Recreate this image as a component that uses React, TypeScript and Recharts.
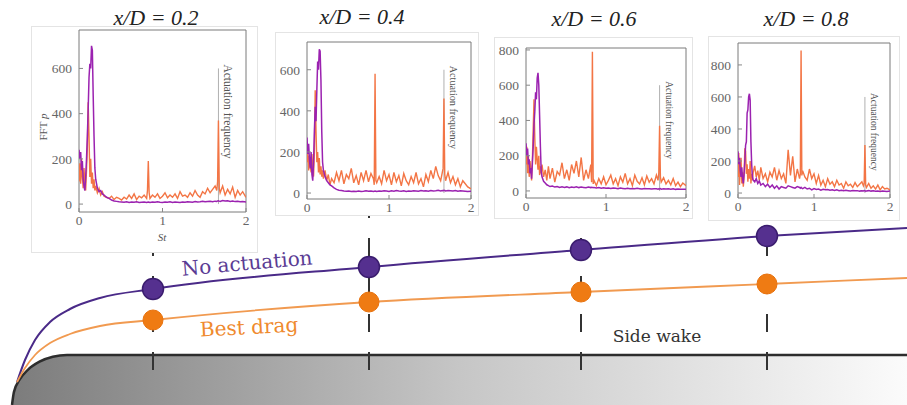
import React from "react";
import { ComposedChart, LineChart, Line, Area, XAxis, YAxis, ReferenceArea, ReferenceLine } from "recharts";

// Strouhal grid shared by the four FFT insets
const st = [
  0, 0.01, 0.02, 0.03, 0.04, 0.05, 0.06, 0.07, 0.08, 0.09,
  0.1, 0.11, 0.12, 0.13, 0.14, 0.15, 0.16, 0.17, 0.18, 0.19,
  0.2, 0.22, 0.24, 0.26, 0.28, 0.3, 0.33, 0.36, 0.39, 0.42,
  0.45, 0.48, 0.51, 0.54, 0.57, 0.6, 0.63, 0.66, 0.69, 0.72,
  0.75, 0.78, 0.81, 0.82, 0.83, 0.84, 0.85, 0.88, 0.91, 0.94,
  0.97, 1.0, 1.03, 1.06, 1.09, 1.12, 1.15, 1.18, 1.21, 1.24,
  1.27, 1.3, 1.33, 1.36, 1.39, 1.42, 1.45, 1.48, 1.51, 1.54,
  1.57, 1.6, 1.63, 1.65, 1.66, 1.67, 1.68, 1.69, 1.72, 1.75,
  1.78, 1.81, 1.84, 1.87, 1.9, 1.93, 1.96, 2.0,
];

// FFT of p, no actuation (purple) and best drag (orange), per station
const fftNone02 = [
  240, 200, 230, 150, 190, 110, 80, 60, 120, 200,
  300, 420, 560, 620, 600, 700, 680, 480, 300, 160,
  110, 70, 55, 60, 45, 40, 30, 25, 18, 14,
  12, 10, 9, 8, 10, 7, 9, 8, 10, 7,
  8, 9, 7, 8, 9, 8, 7, 9, 8, 10,
  8, 7, 9, 8, 10, 7, 9, 8, 7, 9,
  8, 10, 9, 8, 11, 9, 10, 12, 10, 11,
  12, 10, 13, 12, 14, 15, 13, 12, 16, 14,
  15, 12, 14, 11, 12, 10, 11, 9,
];
const fftBest02 = [
  100, 180, 90, 200, 120, 70, 160, 90, 60, 150,
  250, 450, 300, 120, 200, 90, 140, 70, 110, 60,
  80, 50, 70, 40, 55, 35, 30, 25, 35, 20,
  30, 25, 18, 30, 22, 40, 25, 45, 20, 35,
  28, 40, 25, 60, 190, 50, 25, 40, 30, 45,
  25, 35, 50, 28, 40, 30, 45, 25, 55, 35,
  40, 30, 50, 35, 60, 40, 30, 55, 45, 70,
  50, 65, 80, 60, 100, 370, 70, 50, 80, 40,
  65, 45, 75, 30, 60, 40, 55, 30,
];
const fftNone04 = [
  270, 190, 240, 160, 120, 200, 90, 60, 150, 300,
  420, 350, 500, 640, 600, 700, 690, 550, 300, 150,
  110, 80, 60, 50, 40, 35, 25, 18, 14, 12,
  10, 9, 10, 8, 9, 7, 10, 8, 9, 11,
  9, 10, 8, 9, 10, 9, 8, 10, 9, 11,
  10, 8, 11, 9, 12, 10, 9, 11, 8, 10,
  9, 11, 10, 9, 12, 10, 11, 9, 12, 10,
  11, 13, 10, 12, 11, 13, 12, 10, 12, 11,
  10, 12, 9, 11, 10, 9, 8, 9,
];
const fftBest04 = [
  150, 200, 110, 180, 130, 100, 190, 120, 80, 200,
  500, 300, 150, 200, 100, 170, 90, 130, 80, 110,
  70, 110, 60, 90, 40, 70, 50, 100, 60, 110,
  45, 90, 70, 120, 50, 85, 40, 100, 60, 110,
  55, 95, 70, 40, 580, 60, 50, 80, 45, 110,
  60, 90, 40, 100, 55, 85, 35, 95, 60, 40,
  80, 50, 100, 45, 70, 30, 90, 55, 110, 70,
  130, 85, 60, 100, 120, 460, 90, 60, 100, 50,
  80, 40, 70, 30, 60, 45, 30, 20,
];
const fftNone06 = [
  270, 200, 240, 150, 180, 100, 130, 70, 160, 250,
  380, 450, 560, 520, 640, 670, 600, 430, 250, 110,
  80, 55, 45, 35, 30, 25, 28, 22, 25, 20,
  24, 20, 23, 18, 22, 20, 24, 19, 22, 20,
  18, 22, 19, 21, 20, 18, 20, 17, 19, 16,
  18, 15, 17, 14, 16, 15, 13, 16, 14, 12,
  15, 13, 14, 12, 15, 13, 11, 14, 12, 13,
  11, 13, 12, 10, 12, 11, 13, 10, 12, 11,
  13, 10, 12, 9, 11, 10, 9, 10,
];
const fftBest06 = [
  150, 250, 100, 200, 80, 170, 120, 60, 180, 350,
  520, 300, 150, 250, 180, 120, 200, 90, 140, 100,
  150, 80, 120, 60, 140, 70, 130, 50, 110, 90,
  160, 70, 120, 60, 150, 100, 170, 80, 190, 60,
  120, 70, 150, 50, 790, 40, 60, 30, 70, 40,
  80, 35, 60, 90, 40, 70, 30, 80, 50, 100,
  40, 70, 30, 90, 55, 40, 75, 35, 85, 50,
  70, 40, 90, 60, 100, 370, 80, 50, 75, 40,
  60, 35, 70, 30, 50, 25, 45, 30,
];
const fftNone08 = [
  260, 180, 220, 140, 100, 160, 90, 60, 120, 200,
  300, 320, 500, 520, 600, 620, 580, 320, 180, 100,
  80, 70, 90, 60, 75, 50, 60, 40, 55, 35,
  50, 30, 45, 25, 40, 35, 30, 45, 40, 35,
  30, 40, 35, 30, 35, 30, 28, 35, 25, 30,
  20, 28, 22, 25, 18, 24, 20, 22, 18, 20,
  16, 20, 15, 18, 14, 17, 15, 13, 16, 14,
  15, 12, 14, 13, 15, 14, 12, 13, 15, 12,
  14, 11, 13, 10, 12, 11, 10, 12,
];
const fftBest08 = [
  100, 250, 50, 150, 220, 60, 130, 40, 110, 280,
  260, 120, 180, 70, 150, 90, 200, 60, 120, 80,
  130, 170, 100, 140, 80, 160, 90, 120, 70, 130,
  100, 160, 80, 140, 90, 120, 60, 270, 110, 230,
  70, 150, 90, 120, 890, 110, 140, 100, 80, 150,
  90, 120, 60, 110, 50, 80, 40, 90, 55, 70,
  40, 80, 50, 60, 30, 70, 45, 55, 35, 65,
  40, 55, 70, 45, 60, 300, 50, 35, 60, 30,
  45, 25, 50, 20, 40, 25, 30, 20,
];

const stationNames = ["x/D = 0.2", "x/D = 0.4", "x/D = 0.6", "x/D = 0.8"];
const actuationSt = 1.67;
const actuationTop = 600;

// schematic of the body side: streamwise position and height (schematic units)
const stationX = [153, 369, 581, 767];
const noneDotH = [116, 138, 155, 169];
const bestDotH = [85, 103, 113, 121];
const curveX = [17, 25, 35, 50, 70, 100, 153, 369, 581, 767, 907];
const noneCurveH = [23, 45, 65, 83, 96, 107, 116, 138, 155, 169, 177];
const bestCurveH = [23, 37, 50, 62, 71, 79, 85, 103, 113, 121, 127];
const bodyX = [12, 13.9, 19.4, 28.1, 39.5, 52.8, 67, 907];
const bodyH = [0, 12.9, 25, 35.4, 43.3, 48.3, 50, 50];
const stationSpan = [35, 205];

const PURPLE = "#55308f";
const ORANGE = "#ef7b13";
const FFT_PURPLE = "#9b22b0";
const FFT_ORANGE = "#f37545";

const insets = [
  { none: fftNone02, best: fftBest02, box: { x: 32, y: 27, w: 225, h: 225 }, plot: { l: 79, r: 246, t: 30, b: 212 }, y: [-35, 770], ticks: [0, 200, 400, 600], title: { cx: 156, base: 26 }, labelSize: 11.5 },
  { none: fftNone04, best: fftBest04, box: { x: 276, y: 33, w: 202, h: 182 }, plot: { l: 307, r: 471, t: 42, b: 199 }, y: [-29, 735], ticks: [0, 200, 400, 600], title: { cx: 362, base: 25 }, labelSize: 10.2 },
  { none: fftNone06, best: fftBest06, box: { x: 495, y: 38, w: 197, h: 180 }, plot: { l: 526, r: 686, t: 48, b: 198 }, y: [-40, 811], ticks: [0, 200, 400, 600, 800], title: { cx: 594, base: 27 }, labelSize: 9.5 },
  { none: fftNone08, best: fftBest08, box: { x: 709, y: 37, w: 190, h: 183 }, plot: { l: 738, r: 890, t: 43, b: 198 }, y: [-31, 937], ticks: [0, 200, 400, 600, 800], title: { cx: 806, base: 27 }, labelSize: 9.5 },
];

const tickStyle = { fontSize: 13.5, fill: "#666", fontFamily: "Liberation Serif, serif" };

function Inset({ cfg, idx }: { cfg: (typeof insets)[number]; idx: number }) {
  const { box, plot } = cfg;
  const data = st.map((s, i) => ({ st: s, none: cfg.none[i], best: cfg.best[i] }));
  const yAxisW = 28;
  const xAxisH = 8;
  return (
    <div
      style={{
        position: "absolute",
        left: box.x,
        top: box.y,
        width: box.w,
        height: box.h,
        background: "#fff",
        boxShadow: "0 0 0 1px #e4e4e4",
        overflow: "hidden",
      }}
    >
      <LineChart
        width={box.w}
        height={box.h}
        data={data}
        margin={{
          top: plot.t - box.y,
          right: box.x + box.w - plot.r,
          bottom: box.y + box.h - plot.b - xAxisH,
          left: plot.l - box.x - yAxisW,
        }}
      >
        <XAxis
          dataKey="st"
          type="number"
          domain={[0, 2]}
          ticks={[0, 1, 2]}
          height={xAxisH}
          axisLine={false}
          tickLine={{ stroke: "#888" }}
          tickSize={-4}
          tickMargin={7}
          tick={tickStyle}
          allowDataOverflow
        />
        <YAxis
          type="number"
          domain={cfg.y}
          ticks={cfg.ticks}
          width={yAxisW}
          axisLine={false}
          tickLine={{ stroke: "#888" }}
          tickSize={-4}
          tickMargin={11}
          tick={tickStyle}
          allowDataOverflow
        />
        <ReferenceLine
          segment={[
            { x: actuationSt, y: 0 },
            { x: actuationSt, y: actuationTop },
          ]}
          stroke="#b0b0b0"
          strokeWidth={1}
          label={(p: any) => {
            const vb = p.viewBox || { x: 0, y: 0 };
            const tx = vb.x + 6;
            const ty = vb.y - 4;
            return (
              <text
                x={tx}
                y={ty}
                transform={`rotate(90 ${tx} ${ty})`}
                fontSize={cfg.labelSize}
                fill="#555"
                fontFamily="Liberation Serif, serif"
              >
                Actuation frequency
              </text>
            );
          }}
        />
        <Line dataKey="best" stroke={FFT_ORANGE} strokeWidth={1.4} dot={false} activeDot={false} type="linear" isAnimationActive={false} />
        <Line dataKey="none" stroke={FFT_PURPLE} strokeWidth={1.5} dot={false} activeDot={false} type="linear" isAnimationActive={false} />
        <ReferenceArea x1={0} x2={2} y1={cfg.y[0]} y2={cfg.y[1]} fill="none" stroke="#7a7a7a" strokeWidth={1} ifOverflow="visible" />
      </LineChart>
      {idx === 0 && (
        <>
          <div
            style={{
              position: "absolute",
              left: -19,
              top: 93,
              width: 60,
              height: 14,
              lineHeight: "14px",
              textAlign: "center",
              transform: "rotate(-90deg)",
              fontSize: 11,
              color: "#555",
              fontFamily: "Liberation Serif, serif",
            }}
          >
            FFT <i>p</i>
          </div>
          <div
            style={{
              position: "absolute",
              left: 120,
              top: 204,
              width: 20,
              textAlign: "center",
              fontSize: 11,
              fontStyle: "italic",
              color: "#555",
              fontFamily: "Liberation Serif, serif",
            }}
          >
            St
          </div>
        </>
      )}
    </div>
  );
}

export default function App() {
  const bodyData = bodyX.map((x, i) => ({ x, h: bodyH[i] }));
  const noneCurve = curveX.map((x, i) => ({ x, h: noneCurveH[i] }));
  const bestCurve = curveX.map((x, i) => ({ x, h: bestCurveH[i] }));
  const noneDots = stationX.map((x, i) => ({ x, h: noneDotH[i] }));
  const bestDots = stationX.map((x, i) => ({ x, h: bestDotH[i] }));

  const sideLabel = (text: string, cx: number, cy: number, color: string, size: number, angle: number) => (
    <div
      style={{
        position: "absolute",
        left: cx - 100,
        top: cy - 13,
        width: 200,
        height: 26,
        lineHeight: "26px",
        textAlign: "center",
        color,
        fontSize: size,
        fontFamily: "DejaVu Serif, serif",
        transform: `rotate(${angle}deg)`,
        whiteSpace: "nowrap",
      }}
    >
      {text}
    </div>
  );

  return (
    <div style={{ position: "absolute", left: 0, top: 0, width: 907, height: 405, background: "#fff", overflow: "hidden" }}>
      <ComposedChart width={907} height={405} margin={{ top: 0, right: 0, bottom: 0, left: 0 }}>
        <defs>
          <linearGradient id="bodyFill" x1="0" y1="0" x2="1" y2="0">
            <stop offset="0%" stopColor="#7c7c7c" />
            <stop offset="50%" stopColor="#c6c6c6" />
            <stop offset="100%" stopColor="#fbfbfb" />
          </linearGradient>
        </defs>
        <XAxis dataKey="x" type="number" domain={[0, 907]} hide allowDataOverflow />
        <YAxis type="number" domain={[0, 405]} hide allowDataOverflow />
        <Area
          data={bodyData}
          dataKey="h"
          type="monotone"
          fill="url(#bodyFill)"
          fillOpacity={1}
          stroke="#2d2d2d"
          strokeWidth={2.5}
          baseValue={0}
          dot={false}
          activeDot={false}
          isAnimationActive={false}
        />
        {stationX.map((x) => (
          <Line
            key={x}
            data={[
              { x, h: stationSpan[0] },
              { x, h: stationSpan[1] },
            ]}
            dataKey="h"
            type="linear"
            stroke="#333"
            strokeWidth={2}
            strokeDasharray="18 20"
            dot={false}
            activeDot={false}
            isAnimationActive={false}
          />
        ))}
        <Line data={noneCurve} dataKey="h" type="monotone" stroke="#4a2a88" strokeWidth={2} dot={false} activeDot={false} isAnimationActive={false} />
        <Line data={bestCurve} dataKey="h" type="monotone" stroke="#f19a50" strokeWidth={1.8} dot={false} activeDot={false} isAnimationActive={false} />
        <Line
          data={noneDots}
          dataKey="h"
          stroke="none"
          dot={{ r: 10.5, fill: PURPLE, stroke: "#3a1c6e", strokeWidth: 1.5 }}
          activeDot={false}
          isAnimationActive={false}
        />
        <Line
          data={bestDots}
          dataKey="h"
          stroke="none"
          dot={{ r: 10, fill: ORANGE, stroke: "#e8730f", strokeWidth: 1 }}
          activeDot={false}
          isAnimationActive={false}
        />
      </ComposedChart>

      {sideLabel("No actuation", 247, 263, "#5b3c94", 20, -5)}
      {sideLabel("Best drag", 249, 327, "#ef8a2e", 20, -3)}
      {sideLabel("Side wake", 657, 336, "#333", 17, 0)}

      {insets.map((cfg, i) => (
        <React.Fragment key={i}>
          <div
            style={{
              position: "absolute",
              left: cfg.title.cx - 70,
              top: cfg.title.base - 19,
              width: 140,
              textAlign: "center",
              fontFamily: "Liberation Serif, serif",
              fontStyle: "italic",
              fontSize: 22,
              lineHeight: 1,
              color: "#222",
              whiteSpace: "nowrap",
            }}
          >
            {stationNames[i]}
          </div>
          <Inset cfg={cfg} idx={i} />
        </React.Fragment>
      ))}
    </div>
  );
}
